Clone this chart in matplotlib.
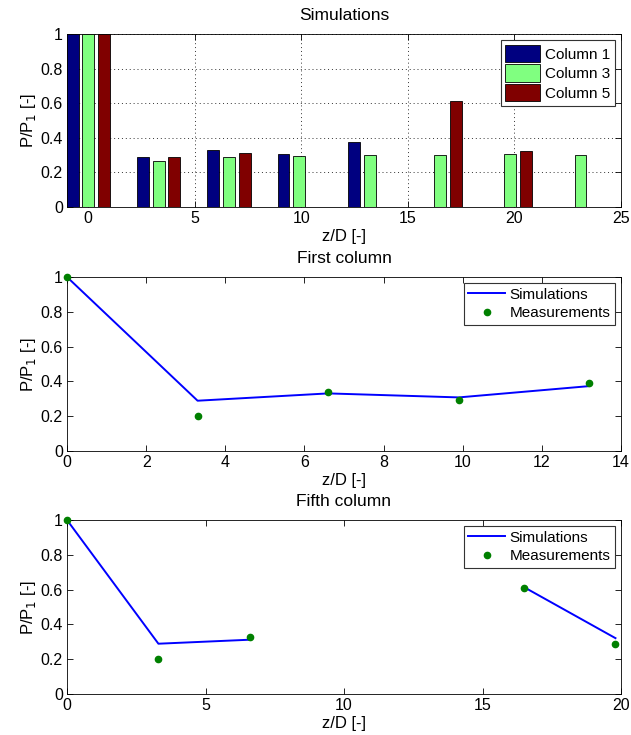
import numpy as np
import matplotlib
matplotlib.use("Agg")
import matplotlib.pyplot as plt

plt.rcParams['font.family'] = ['Liberation Sans', 'DejaVu Sans']

# Data
z = [0, 3.3, 6.6, 9.9, 13.2, 16.5, 19.8, 23.1]
col1 = [1.0, 0.289, 0.331, 0.308, 0.373, np.nan, np.nan, np.nan]
col3 = [1.0, 0.266, 0.289, 0.293, 0.302, 0.298, 0.308, 0.302]
col5 = [1.0, 0.289, 0.312, np.nan, np.nan, 0.614, 0.321, np.nan]
series_names = ["Column 1", "Column 3", "Column 5"]
series_colors = ["#000080", "#80ff80", "#800000"]

meas1_z = [0, 3.3, 6.6, 9.9, 13.2]
meas1 = [1.0, 0.20, 0.34, 0.295, 0.39]
meas5_z = [0, 3.3, 6.6, 16.5, 19.8]
meas5 = [1.0, 0.20, 0.33, 0.61, 0.29]

fig = plt.figure(figsize=(6.31, 7.35), dpi=100)
W, H = 631.0, 735.0
left, right = 67 / W, 621 / W

TICK = 11.5
LAB = 12
TIT = 12.5
LEG = 11

def ax_at(top_px, bot_px):
    return fig.add_axes([left, 1 - bot_px / H, right - left, (bot_px - top_px) / H])

def style(ax):
    ax.tick_params(direction='in', top=True, right=True, length=4, labelsize=TICK, width=0.6, pad=3)
    for s in ax.spines.values():
        s.set_linewidth(0.6)

ylab = "P/P$_1$ [-]"
yt = [0, 0.2, 0.4, 0.6, 0.8, 1]
ytl = ["0", "0.2", "0.4", "0.6", "0.8", "1"]

def legend(ax, **kw):
    leg = ax.legend(loc='upper right', fontsize=LEG, fancybox=False, framealpha=1,
                    edgecolor='#333333', borderaxespad=0.4, handletextpad=0.3,
                    borderpad=0.3, **kw)
    leg.get_frame().set_linewidth(0.8)
    return leg

# Top: bars
ax1 = ax_at(34, 207)
offsets = [-0.74, 0.0, 0.74]
width = 0.56
for vals, off, name, c in zip([col1, col3, col5], offsets, series_names, series_colors):
    ax1.bar(np.array(z) + off, vals, width=width, color=c, edgecolor='black',
            linewidth=0.6, label=name, zorder=3)
ax1.set_xlim(-1, 25)
ax1.set_ylim(0, 1)
ax1.set_xticks([0, 5, 10, 15, 20, 25])
ax1.set_yticks(yt)
ax1.set_yticklabels(ytl)
ax1.grid(True, linestyle=(0, (1, 3)), color='#333333', linewidth=0.7, zorder=0)
ax1.set_axisbelow(True)
ax1.set_title("Simulations", fontsize=TIT, pad=10)
ax1.set_xlabel("z/D [-]", fontsize=LAB, labelpad=2)
ax1.set_ylabel(ylab, fontsize=LAB, labelpad=2)
style(ax1)
legend(ax1, handlelength=2.3, handleheight=1.4, labelspacing=0.12)

# Middle
ax2 = ax_at(277, 451)
ax2.plot(z[:5], col1[:5], color='#0000ff', linewidth=1.4, label='Simulations')
ax2.plot(meas1_z, meas1, linestyle='none', marker='o', markersize=4.5, color='#008000',
         label='Measurements', clip_on=False, zorder=4)
ax2.set_xlim(0, 14)
ax2.set_ylim(0, 1)
ax2.set_xticks(range(0, 15, 2))
ax2.set_yticks(yt)
ax2.set_yticklabels(ytl)
ax2.set_title("First column", fontsize=TIT, pad=10)
ax2.set_xlabel("z/D [-]", fontsize=LAB, labelpad=2)
ax2.set_ylabel(ylab, fontsize=LAB, labelpad=2)
style(ax2)
legend(ax2, handlelength=2.4, labelspacing=0.3)

# Bottom
ax3 = ax_at(520, 694)
ax3.plot(z[:7], col5[:7], color='#0000ff', linewidth=1.4, label='Simulations')
ax3.plot(meas5_z, meas5, linestyle='none', marker='o', markersize=4.5, color='#008000',
         label='Measurements', clip_on=False, zorder=4)
ax3.set_xlim(0, 20)
ax3.set_ylim(0, 1)
ax3.set_xticks([0, 5, 10, 15, 20])
ax3.set_yticks(yt)
ax3.set_yticklabels(ytl)
ax3.set_title("Fifth column", fontsize=TIT, pad=10)
ax3.set_xlabel("z/D [-]", fontsize=LAB, labelpad=2)
ax3.set_ylabel(ylab, fontsize=LAB, labelpad=2)
style(ax3)
legend(ax3, handlelength=2.4, labelspacing=0.3)

fig.savefig("out.png", dpi=100)
